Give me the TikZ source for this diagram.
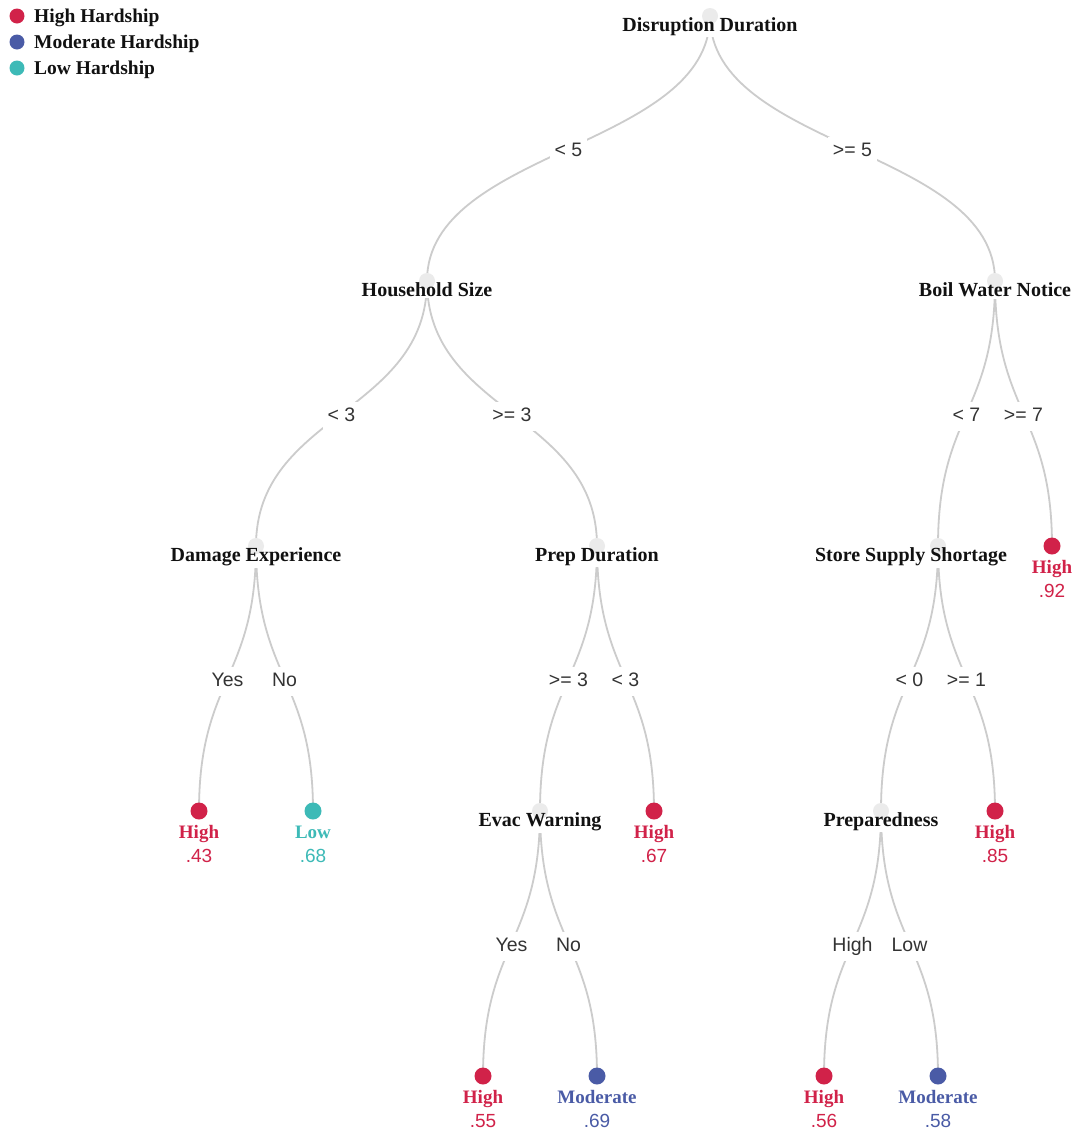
\documentclass[tikz,border=0pt]{standalone}
\usepackage{fontspec}
\setmainfont{Liberation Serif}
\setsansfont{Liberation Sans}
\usetikzlibrary{calc}

\definecolor{hi}{HTML}{D12249}
\definecolor{mod}{HTML}{4A5BA6}
\definecolor{lo}{HTML}{3DBAB7}
\definecolor{edgec}{HTML}{CCCCCC}
\definecolor{nodec}{HTML}{EBEBEB}
\definecolor{ink}{HTML}{111111}
\definecolor{cond}{HTML}{333333}

\pgfdeclarelayer{paper}
\pgfdeclarelayer{edges}
\pgfdeclarelayer{boxes}
\pgfdeclarelayer{dots}
\pgfsetlayers{paper,edges,boxes,dots,main}

\tikzset{
  split/.style={circle, fill=nodec, minimum size=16pt, inner sep=0pt},
  leaf/.style={circle, minimum size=17pt, inner sep=0pt},
  slabel/.style={anchor=base, inner sep=2pt, text=ink,
    font=\fontsize{20}{20}\selectfont\bfseries},
  llabel/.style={anchor=base, inner sep=1pt,
    font=\fontsize{19}{19}\selectfont\bfseries},
  lvalue/.style={anchor=base, inner sep=1pt,
    font=\sffamily\fontsize{19}{19}\selectfont},
  edge/.style={draw=edgec, line width=1.8pt},
  elabel/.style={fill=white, anchor=base, yshift=-7.5pt, inner sep=5pt,
    text height=14.5pt, text depth=4.5pt, text=cond,
    font=\sffamily\fontsize{19.5}{19.5}\selectfont},
  keydot/.style={circle, minimum size=15pt, inner sep=0pt},
  keytext/.style={anchor=base west, inner sep=0pt, text=ink,
    font=\fontsize{19.5}{19.5}\selectfont\bfseries}
}

% decision node: grey dot with its question below, on a white plate
\newcommand\splitnode[5]{%
  \begin{pgfonlayer}{dots}
    \node[split] (#1) at (#2,#3) {};
  \end{pgfonlayer}
  \node[slabel] (#1-t) at (#4,#3+15) {#5};
  \begin{pgfonlayer}{boxes}
    \fill[white] (#1-t.south west) rectangle (#1-t.north east);
  \end{pgfonlayer}}

% outcome node: coloured dot, class and share
\newcommand\leafnode[6]{%
  \node[leaf, fill=#4] (#1) at (#2,#3) {};
  \node[llabel, text=#4] (#1-c) at (#2,#3+27) {#5};
  \node[lvalue, text=#4] (#1-v) at (#2,#3+51) {#6};}

% vertical link between two nodes, with its condition half way
\newcommand\branch[3]{%
  \begin{pgfonlayer}{edges}
    \coordinate (mid) at ($(#1.center)!0.5!(#2.center)$);
    \draw[edge] (#1.center) .. controls (#1 |- mid) and (#2 |- mid) .. (#2.center)
      node[elabel, pos=0.5] {#3};
  \end{pgfonlayer}}

\begin{document}
\begin{tikzpicture}[x=1pt, y=-1pt]
  \begin{pgfonlayer}{paper}
    \fill[white] (0,0) rectangle (1078,1136);
  \end{pgfonlayer}
  \useasboundingbox (0,0) rectangle (1078,1136);

  % key
  \node[keydot, fill=hi]  (k1) at (17,16) {};
  \node[keydot, fill=mod] (k2) at (17,42) {};
  \node[keydot, fill=lo]  (k3) at (17,68) {};
  \node[keytext] (k1t) at (34,22.5) {High Hardship};
  \node[keytext] (k2t) at (34,48.5) {Moderate Hardship};
  \node[keytext] (k3t) at (34,74.5) {Low Hardship};

  % decision nodes: name, dot x, dot y, text x, question
  \splitnode{root}{710}{16}{710}{Disruption Duration}
  \splitnode{hs}{427}{281}{427}{Household Size}
  \splitnode{bw}{995}{281}{995}{Boil Water Notice}
  \splitnode{de}{256}{546}{256}{Damage Experience}
  \splitnode{pd}{597}{546}{597}{Prep Duration}
  \splitnode{ss}{938}{546}{911}{Store Supply Shortage}
  \splitnode{ew}{540}{811}{540}{Evac Warning}
  \splitnode{pr}{881}{811}{881}{Preparedness}

  % outcomes
  \leafnode{l92}{1052}{546}{hi}{High}{.92}
  \leafnode{l43}{199}{811}{hi}{High}{.43}
  \leafnode{l68}{313}{811}{lo}{Low}{.68}
  \leafnode{l67}{654}{811}{hi}{High}{.67}
  \leafnode{l85}{995}{811}{hi}{High}{.85}
  \leafnode{l55}{483}{1076}{hi}{High}{.55}
  \leafnode{l69}{597}{1076}{mod}{Moderate}{.69}
  \leafnode{l56}{824}{1076}{hi}{High}{.56}
  \leafnode{l58}{938}{1076}{mod}{Moderate}{.58}

  % links
  \branch{root}{hs}{< 5}
  \branch{root}{bw}{>= 5}
  \branch{hs}{de}{< 3}
  \branch{hs}{pd}{>= 3}
  \branch{bw}{ss}{< 7}
  \branch{bw}{l92}{>= 7}
  \branch{de}{l43}{Yes}
  \branch{de}{l68}{No}
  \branch{pd}{ew}{>= 3}
  \branch{pd}{l67}{< 3}
  \branch{ss}{pr}{< 0}
  \branch{ss}{l85}{>= 1}
  \branch{ew}{l55}{Yes}
  \branch{ew}{l69}{No}
  \branch{pr}{l56}{High}
  \branch{pr}{l58}{Low}
\end{tikzpicture}
\end{document}
